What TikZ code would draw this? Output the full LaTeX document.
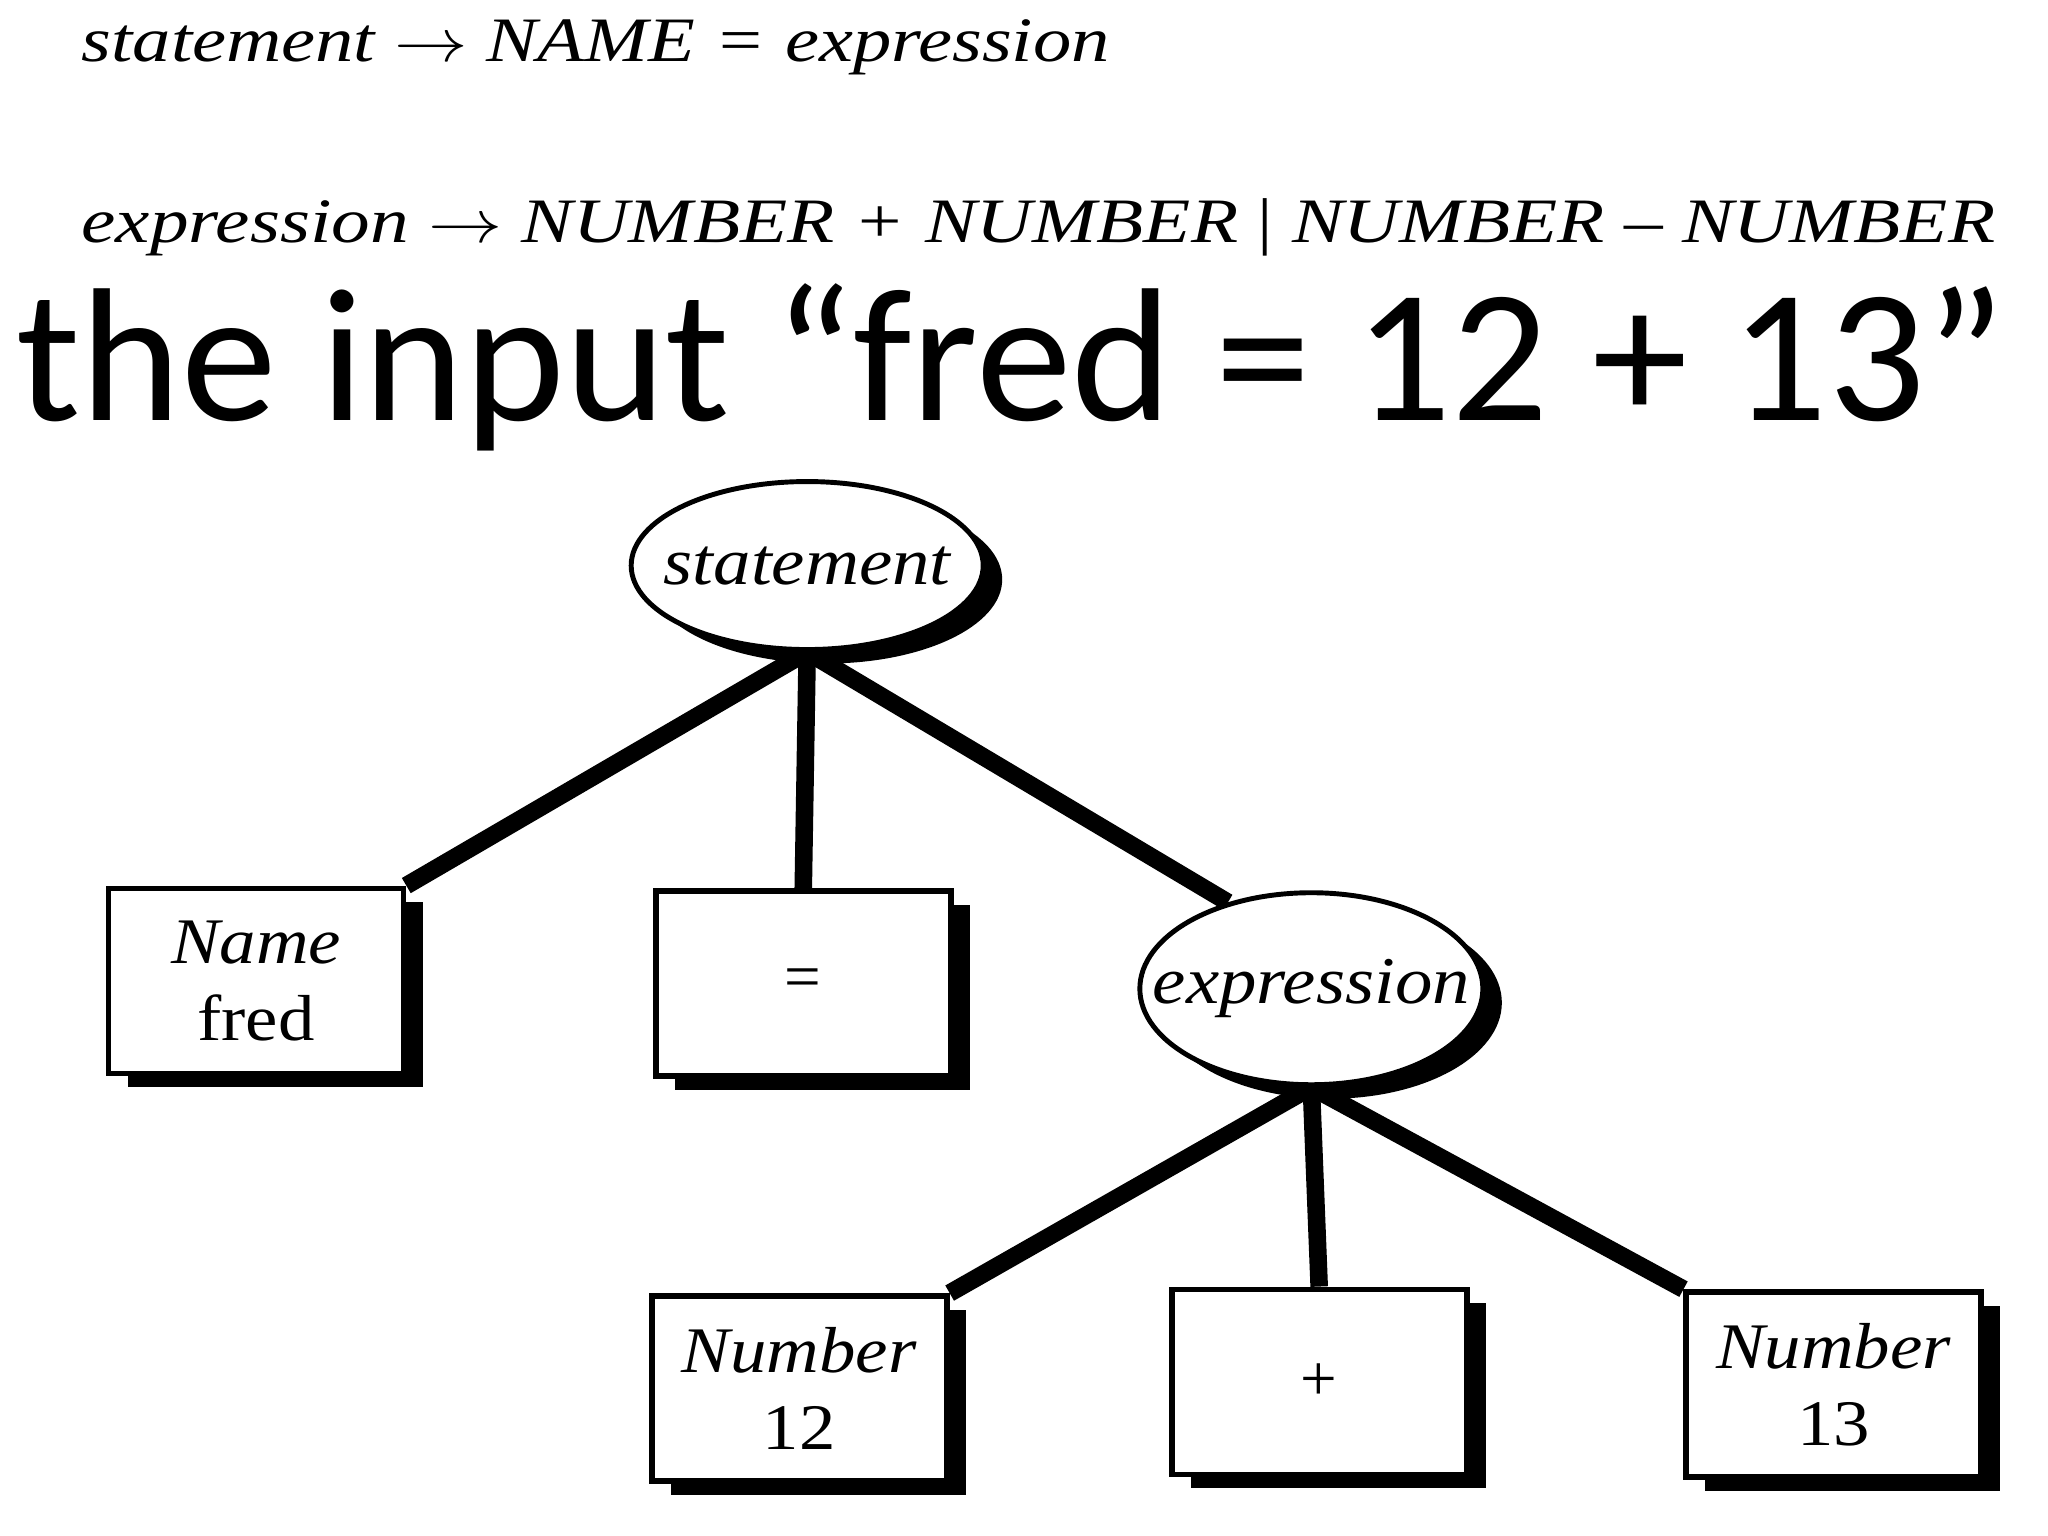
\documentclass[tikz,border=0pt]{standalone}
\usepackage{fontspec}
\setmainfont{Liberation Serif}
\newfontfamily\bigsans{Carlito}
\usetikzlibrary{shapes.geometric,shadows,backgrounds}
\newcommand{\wide}[2][1.12]{\scalebox{#1}[1]{#2}}

\begin{document}
\begin{tikzpicture}[x=0.01306cm,y=-0.01306cm,
        blackshadow/.style={drop shadow={shadow xshift=0.19cm,shadow yshift=-0.14cm,fill=black,opacity=1}},
        leafbox/.style={draw,line width=1.6pt,fill=white,blackshadow,minimum width=2.95cm,minimum height=1.85cm,align=center,font=\fontsize{18.5}{22}\selectfont},
        ruleoval/.style={draw,ellipse,line width=1.4pt,fill=white,blackshadow,inner xsep=-2cm,inner ysep=-0.5cm,font=\fontsize{19}{22}\selectfont\itshape},
        grammar/.style={anchor=base west,inner sep=0pt,font=\fontsize{18}{22}\selectfont\itshape},
        branch/.style={line width=5pt}]
    \useasboundingbox (0,0) rectangle (1568,1176);
    % grammar and input
    \node[grammar] (rule1) at (62,47) {\wide[1.21]{statement $\rightarrow$ NAME = expression}};
    \node[grammar] (rule2) at (62,186) {\wide[1.22]{expression $\rightarrow$ NUMBER + NUMBER {\upshape|} NUMBER -- NUMBER}};
    \node[anchor=base west,inner sep=0pt,font=\bigsans\fontsize{54}{60}\selectfont] (input) at (12,322) {\wide[1.01]{the input “fred = 12 + 13”}};
    % parse tree
    \node[ruleoval,minimum width=3.52cm,minimum height=1.68cm] (stmt) at (618,433) {\wide{statement}};
    \node[leafbox] (name) at (196,751) {\wide{\textit{Name}}\\\wide{fred}};
    \node[leafbox] (eq) at (615,753) {=};
    \node[ruleoval,minimum width=3.43cm,minimum height=1.92cm] (expr) at (1004,757) {\wide{expression}};
    \node[leafbox] (num1) at (612,1063) {\wide{\textit{Number}}\\\wide{12}};
    \node[leafbox] (plus) at (1010,1058) {+};
    \node[leafbox] (num2) at (1404,1060) {\wide{\textit{Number}}\\\wide{13}};
    \begin{scope}[on background layer]
        \draw[branch] (stmt.south) -- (name.north east);
        \draw[branch] (stmt.south) -- (eq.north);
        \draw[branch] (stmt.south) -- (expr.134);
        \draw[branch] (expr.south) -- (num1.north east);
        \draw[branch] (expr.south) -- (plus.north);
        \draw[branch] (expr.south) -- (num2.north west);
    \end{scope}
\end{tikzpicture}
\end{document}
